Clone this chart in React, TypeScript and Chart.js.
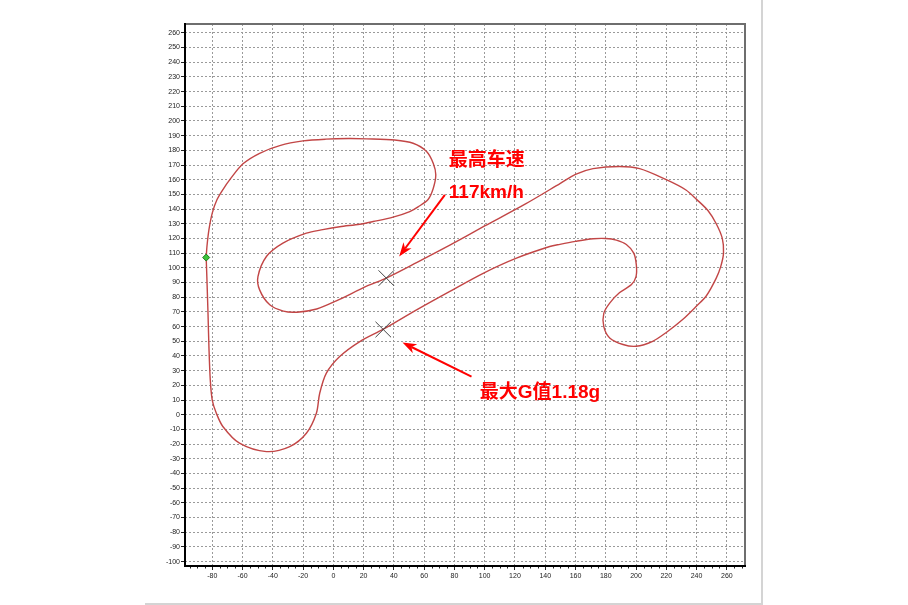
import { useEffect, useRef } from 'react';
import Chart from 'chart.js/auto';

// track outline (metres), starting at the green start marker
const trackX = [
  -84, -83.5, -82.2, -80, -76.9, -72.5, -68.5, -59.7, -48.7, -35.4, -20, -5, 10, 22, 40.6,
  52.7, 61.6, 66, 67.7, 66, 62.6, 56, 50.5, 39.5, 26.3, 17.5, 4.2, -7, -17.8, -33.3, -44.2,
  -49.8, -48.7, -42, -33, -24, -11, 2, 22, 35, 55, 77, 100, 127, 150, 160, 171.6, 189,
  202.4, 220, 233, 240, 247.5, 253, 257, 257.8, 256, 253, 246.5, 240, 231, 220, 211, 200,
  191.4, 182.6, 178.7, 178.7, 182.6, 189, 197, 200, 200.2, 198.5, 193.6, 187, 180, 171.6,
  160, 149.7, 143, 121, 99, 77, 55, 33, 17.5, 4.2, -4.6, -9, -11.2, -17.8, -28.8, -44.2,
  -62, -73, -77.3, -80, -81.3, -82.2, -82.8, -83.5, -84,
];
const trackY = [
  107, 114.5, 125.8, 137.2, 146.3, 154, 159.9, 170.8, 178, 183.2, 186.4, 187.6, 188, 187.8, 187,
  184.8, 179.2, 171.2, 163.3, 154, 146.5, 141.5, 138.3, 134.5, 131.5, 129.7, 128, 126, 123.6, 116.8, 107.7,
  94, 85, 74.8, 70.5, 69.8, 72, 77.5, 87.5, 93, 103.5, 115.5, 128.5, 143.5, 157.5, 163.6, 167.5, 169,
  167.5, 160, 153, 146.6, 139, 130, 120, 110, 101, 93, 81, 74, 65, 56, 50, 46.6,
  47.8, 52.3, 60, 69, 76, 83, 88.6, 94, 102, 110, 115.9, 118.9, 120, 119.8,
  118, 116, 114.5, 106.6, 96.3, 84, 71.4, 58.2, 49.8, 39.6, 28.3, 14.6, 1, -12.6, -21.7, -25.1,
  -19.4, -8, 1, 10, 23.7, 46.4, 69, 91.8, 107,
];

// max speed point and max G point
const markerX = [35, 33];
const markerY = [93, 58];

const startX = [-84];
const startY = [107];

const speedLabel = ['最高车速', '117km/h'];
const gLabel = '最大G值1.18g';

// annotation placement in data units
const notes = [
  { text: speedLabel[0], x: 76.3, y: 169.4 },
  { text: speedLabel[1], x: 76.3, y: 147.6 },
  { text: gLabel, x: 96.8, y: 11.4 },
];
const arrows = [
  { x1: 73.7, y1: 149.7, x2: 43.5, y2: 107.7 },
  { x1: 91.3, y1: 25.9, x2: 45.7, y2: 49.1 },
];

const tickFont = { family: '"Liberation Sans", Arial, sans-serif', size: 7 };

function drawArrow(ctx: CanvasRenderingContext2D, x1: number, y1: number, x2: number, y2: number) {
  const a = Math.atan2(y2 - y1, x2 - x1);
  const c = Math.cos(a);
  const s = Math.sin(a);
  const len = 14;
  const notch = 10;
  const half = 5;
  ctx.save();
  ctx.strokeStyle = '#ff0000';
  ctx.fillStyle = '#ff0000';
  ctx.lineWidth = 2;
  ctx.beginPath();
  ctx.moveTo(x1, y1);
  ctx.lineTo(x2 - notch * c, y2 - notch * s);
  ctx.stroke();
  const bx = x2 - len * c;
  const by = y2 - len * s;
  ctx.beginPath();
  ctx.moveTo(x2, y2);
  ctx.lineTo(bx - half * s, by + half * c);
  ctx.lineTo(x2 - notch * c, y2 - notch * s);
  ctx.lineTo(bx + half * s, by - half * c);
  ctx.closePath();
  ctx.fill();
  ctx.restore();
}

const overlay = {
  id: 'overlay',
  afterDatasetsDraw(chart: any) {
    const { ctx, scales } = chart;
    const xs = scales.x;
    const ys = scales.y;
    arrows.forEach((ar) =>
      drawArrow(
        ctx,
        xs.getPixelForValue(ar.x1),
        ys.getPixelForValue(ar.y1),
        xs.getPixelForValue(ar.x2),
        ys.getPixelForValue(ar.y2),
      ),
    );
    ctx.save();
    ctx.fillStyle = '#ff0000';
    ctx.font = 'bold 19px "Liberation Sans", "Noto Sans CJK SC", sans-serif';
    ctx.textAlign = 'left';
    ctx.textBaseline = 'alphabetic';
    notes.forEach((n) => ctx.fillText(n.text, xs.getPixelForValue(n.x), ys.getPixelForValue(n.y)));
    ctx.restore();
  },
  afterDraw(chart: any) {
    const { ctx, chartArea, scales } = chart;
    const { left, right, top, bottom } = chartArea;
    ctx.save();
    // minor ticks on the x axis
    ctx.strokeStyle = '#222';
    ctx.lineWidth = 1;
    for (let v = -95; v <= 270; v += 5) {
      if (v % 20 === 0) continue;
      const px = Math.round(scales.x.getPixelForValue(v)) + 0.5;
      ctx.beginPath();
      ctx.moveTo(px, bottom);
      ctx.lineTo(px, bottom + 2.5);
      ctx.stroke();
    }
    // sunken frame
    ctx.lineWidth = 2;
    ctx.strokeStyle = '#6e6e6e';
    ctx.beginPath();
    ctx.moveTo(left, top);
    ctx.lineTo(right, top);
    ctx.lineTo(right, bottom);
    ctx.stroke();
    ctx.strokeStyle = '#000';
    ctx.beginPath();
    ctx.moveTo(left, top - 1);
    ctx.lineTo(left, bottom);
    ctx.lineTo(right + 1, bottom);
    ctx.stroke();
    ctx.restore();
  },
};

export default function App() {
  const canvasRef = useRef<HTMLCanvasElement>(null);

  useEffect(() => {
    if (!canvasRef.current) return;
    const track = trackX.map((x, i) => ({ x, y: trackY[i] }));
    const markers = markerX.map((x, i) => ({ x, y: markerY[i] }));
    const start = startX.map((x, i) => ({ x, y: startY[i] }));

    const chart = new Chart(canvasRef.current, {
      type: 'scatter',
      data: {
        datasets: [
          {
            data: start,
            pointStyle: 'rectRot',
            pointRadius: 3.5,
            backgroundColor: '#3cc43c',
            borderColor: '#1b7a1b',
            borderWidth: 1,
          },
          {
            data: markers,
            pointStyle: 'crossRot',
            pointRadius: 11,
            borderColor: '#444',
            borderWidth: 1,
          },
          {
            data: track,
            showLine: true,
            borderColor: '#c24646',
            borderWidth: 1.4,
            pointRadius: 0,
            tension: 0.3,
            fill: false,
          },
        ],
      },
      options: {
        responsive: false,
        animation: false,
        layout: { padding: { left: 145, right: 163, top: 24, bottom: 9 } },
        plugins: { legend: { display: false }, tooltip: { enabled: false } },
        scales: {
          x: {
            type: 'linear',
            min: -98,
            max: 272,
            afterBuildTicks: (s: any) => {
              s.ticks = s.ticks.filter((t: any) => t.value % 20 === 0);
            },
            afterFit: (s: any) => {
              s.height = 30;
            },
            ticks: {
              stepSize: 20,
              includeBounds: false,
              autoSkip: false,
              maxRotation: 0,
              color: '#222',
              font: tickFont,
              padding: 2,
            },
            grid: { color: '#9a9a9a', lineWidth: 1, tickColor: '#222', tickLength: 4 },
            border: { display: false, dash: [2, 2] },
          },
          y: {
            type: 'linear',
            min: -103,
            max: 266,
            afterBuildTicks: (s: any) => {
              s.ticks = s.ticks.filter((t: any) => t.value % 10 === 0);
            },
            afterFit: (s: any) => {
              s.width = 40;
            },
            ticks: {
              stepSize: 10,
              includeBounds: false,
              autoSkip: false,
              color: '#222',
              font: tickFont,
              padding: 1,
            },
            grid: { color: '#9a9a9a', lineWidth: 1, tickColor: '#222', tickLength: 4 },
            border: { display: false, dash: [2, 2] },
          },
        },
      },
      plugins: [overlay],
    });

    return () => {
      chart.destroy();
    };
  }, []);

  return (
    <div style={{ position: 'fixed', left: 0, top: 0, width: 908, height: 605, background: '#fff' }}>
      <canvas ref={canvasRef} width={908} height={605} style={{ display: 'block' }} />
      <div style={{ position: 'absolute', left: 761, top: 0, width: 2, height: 605, background: '#d4d4d4' }} />
      <div style={{ position: 'absolute', left: 145, top: 603, width: 618, height: 2, background: '#d4d4d4' }} />
    </div>
  );
}
